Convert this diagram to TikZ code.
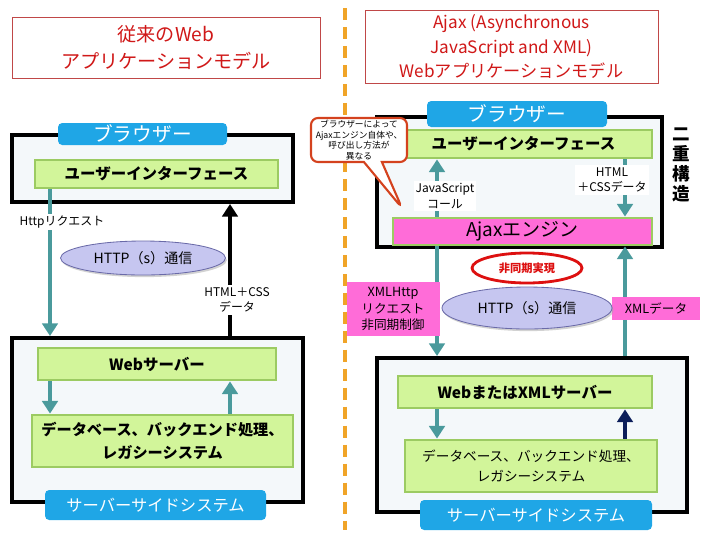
\documentclass[tikz,border=0pt]{standalone}
\usepackage{fontspec}
\setmainfont{Noto Sans CJK JP}
\usepackage{tikz}
\usetikzlibrary{shapes, shapes.callouts, arrows.meta, positioning, calc, shadows}

\definecolor{titlered}{HTML}{D01818}
\definecolor{titleframe}{HTML}{C04848}
\definecolor{panelbg}{HTML}{F4F8FA}
\definecolor{tabblue}{HTML}{1FA6E6}
\definecolor{boxgreen}{HTML}{D2F59A}
\definecolor{boxedge}{HTML}{9CCB62}
\definecolor{linkteal}{HTML}{4A9A9C}
\definecolor{commfill}{HTML}{C6C6F0}
\definecolor{commedge}{HTML}{6A6AA8}
\definecolor{enginepink}{HTML}{FF6CD8}
\definecolor{divorange}{HTML}{F0A428}
\definecolor{noteedge}{HTML}{D4421E}
\definecolor{asyncred}{HTML}{DD1010}
\definecolor{navyline}{HTML}{0C1E5A}

\newcommand{\pxu}{0.025cm}

\begin{document}
\begin{tikzpicture}[x=0.025cm, y=-0.025cm,
  titlebox/.style={draw=titleframe, line width=0.6pt, fill=white, align=center, text=titlered, inner sep=0pt},
  panel/.style={draw=black, line width=2.8pt, fill=panelbg, inner sep=0pt},
  tab/.style={fill=tabblue, rounded corners=3pt, text=white, inner sep=0pt},
  greenbox/.style={draw=boxedge, line width=2pt, fill=boxgreen, align=center, inner sep=0pt, font=\fontsize{11}{15}\selectfont\bfseries},
  enginebox/.style={draw=boxedge, line width=2pt, fill=enginepink, inner sep=0pt, font=\fontsize{13.5}{15}\selectfont},
  comm/.style={ellipse, draw=commedge, line width=0.6pt, fill=commfill, inner sep=0pt, drop shadow={shadow xshift=1pt, shadow yshift=-1.5pt, fill=black!35}, font=\fontsize{10}{12}\selectfont},
  tealarrow/.style={-{Triangle[width=11pt, length=9pt]}, line width=2.8pt, draw=linkteal},
  blackarrow/.style={-{Triangle[width=11pt, length=9pt]}, line width=2.8pt, draw=black},
  navyarrow/.style={-{Triangle[width=11pt, length=9pt]}, line width=2.8pt, draw=navyline},
  label/.style={fill=white, align=center, inner sep=1.5pt, font=\fontsize{8.5}{11}\selectfont},
  pinklabel/.style={fill=enginepink, align=center, inner sep=0pt, font=\fontsize{9}{12}\selectfont}
]
\useasboundingbox (0,0) rectangle (720,540);

% divider between the two models
\coordinate (divtop) at (345,8);
\coordinate (divbot) at (345,530);
\draw[divorange, line width=2.2pt, dash pattern=on 8.5pt off 5pt] (divtop) -- (divbot);

% ---- left: classic web application model ----
\node[titlebox, minimum width=308*\pxu, minimum height=61*\pxu, font=\fontsize{13.6}{19}\selectfont] (ltitle) at (166,47.5) {従来のWeb\\アプリケーションモデル};

\node[panel, minimum width=281*\pxu, minimum height=67*\pxu] (lbrowser) at (152.5,168.5) {};
\node[tab, minimum width=169*\pxu, minimum height=22*\pxu, font=\fontsize{14}{16}\selectfont] (lbtab) at (142.5,134) {ブラウザー};
\node[greenbox, minimum width=243*\pxu, minimum height=28*\pxu] (lui) at (156.5,174) {ユーザーインターフェース};

\node[panel, minimum width=291*\pxu, minimum height=164*\pxu] (lserver) at (157.5,420) {};
\node[greenbox, minimum width=238*\pxu, minimum height=32*\pxu] (lweb) at (157,364) {Webサーバー};
\node[greenbox, minimum width=261*\pxu, minimum height=52*\pxu, font=\fontsize{10.8}{16}\selectfont\bfseries] (ldb) at (162.5,441) {データベース、バックエンド処理、\\レガシーシステム};
\node[tab, minimum width=221*\pxu, minimum height=30*\pxu, font=\fontsize{11.6}{14}\selectfont] (lstab) at (155.5,505) {サーバーサイドシステム};

\coordinate (lcolA) at (50,0);
\coordinate (lcolB) at (230,0);
\draw[tealarrow] (lui.south -| lcolA) -- (lserver.north -| lcolA);
\node[label] (lreq) at (62,222) {Httpリクエスト};
\draw[blackarrow] (lserver.north -| lcolB) -- (lbrowser.south -| lcolB);
\node[label] (lresp) at (237,300) {HTML＋CSS\\データ};
\node[comm, minimum width=165*\pxu, minimum height=34*\pxu] (lhttp) at (143,258) {HTTP（s）通信};

\draw[tealarrow] (lweb.south -| lcolA) -- (ldb.north -| lcolA);
\draw[tealarrow] (ldb.north -| lcolB) -- (lweb.south -| lcolB);

% ---- right: Ajax web application model ----
\node[titlebox, minimum width=293*\pxu, minimum height=73*\pxu, font=\fontsize{12.2}{17.4}\selectfont] (rtitle) at (511.5,46.5) {Ajax (Asynchronous\\JavaScript and XML)\\Webアプリケーションモデル};

\node[panel, minimum width=285*\pxu, minimum height=130*\pxu] (rbrowser) at (519.5,182) {};
\node[tab, minimum width=180*\pxu, minimum height=26*\pxu, font=\fontsize{14}{16}\selectfont] (rbtab) at (517,114) {ブラウザー};
\node[greenbox, minimum width=257*\pxu, minimum height=28*\pxu] (rui) at (523.5,144) {ユーザーインターフェース};
\node[enginebox, minimum width=259*\pxu, minimum height=27*\pxu] (rajax) at (522.5,231.5) {Ajaxエンジン};
\node[align=center, inner sep=0pt, font=\fontsize{12.5}{14.2}\selectfont\bfseries] (dual) at (681,165) {二\\重\\構\\造};

\coordinate (rcolA) at (437,0);
\coordinate (rcolB) at (625,0);
\draw[tealarrow] (rajax.north -| rcolA) -- (rui.south -| rcolA);
\node[label] (jscall) at (445,196) {JavaScript\\コール};
\draw[tealarrow] (rui.south -| rcolB) -- (rajax.north -| rcolB);
\node[label] (rhtml) at (612,180) {HTML\\＋CSSデータ};

\coordinate (ptip) at (402,208);
\node[rectangle callout, callout absolute pointer={(ptip)}, callout pointer width=18*\pxu, draw=noteedge, line width=1.5pt, rounded corners=5pt, fill=white, align=center, inner sep=0pt, minimum width=96*\pxu, minimum height=44*\pxu, font=\fontsize{6.2}{7.6}\selectfont] (note) at (359,140) {ブラウザーによって\\Ajaxエンジン自体や、\\呼び出し方法が\\異なる};

\node[panel, minimum width=310*\pxu, minimum height=154*\pxu] (rserver) at (532,435) {};
\node[greenbox, minimum width=254*\pxu, minimum height=32*\pxu] (rweb) at (525,392) {WebまたはXMLサーバー};
\node[greenbox, minimum width=252*\pxu, minimum height=52*\pxu, font=\fontsize{9.7}{14}\selectfont] (rdb) at (531,466) {データベース、バックエンド処理、\\レガシーシステム};
\node[tab, minimum width=232*\pxu, minimum height=30*\pxu, font=\fontsize{11.6}{14}\selectfont] (rstab) at (536,515) {サーバーサイドシステム};

\draw[tealarrow] (rajax.south -| rcolA) -- (rserver.north -| rcolA);
\draw[tealarrow] (rserver.north -| rcolB) -- (rajax.south -| rcolB);
\node[pinklabel, minimum width=93*\pxu, minimum height=54*\pxu] (xhr) at (393,309) {XMLHttp\\リクエスト\\非同期制御};
\node[pinklabel, minimum width=88*\pxu, minimum height=23*\pxu] (xmldata) at (656,308) {XMLデータ};
\node[ellipse, draw=asyncred, line width=2pt, fill=white, inner sep=0pt, minimum width=110*\pxu, minimum height=30*\pxu, text=asyncred, font=\fontsize{8}{9}\selectfont\bfseries] (async) at (527,268) {非同期実現};
\node[comm, minimum width=170*\pxu, minimum height=42*\pxu] (rhttp) at (527,308) {HTTP（s）通信};

\draw[tealarrow] (rweb.south -| rcolA) -- (rdb.north -| rcolA);
\draw[navyarrow] (rdb.north -| rcolB) -- (rweb.south -| rcolB);
\end{tikzpicture}
\end{document}
